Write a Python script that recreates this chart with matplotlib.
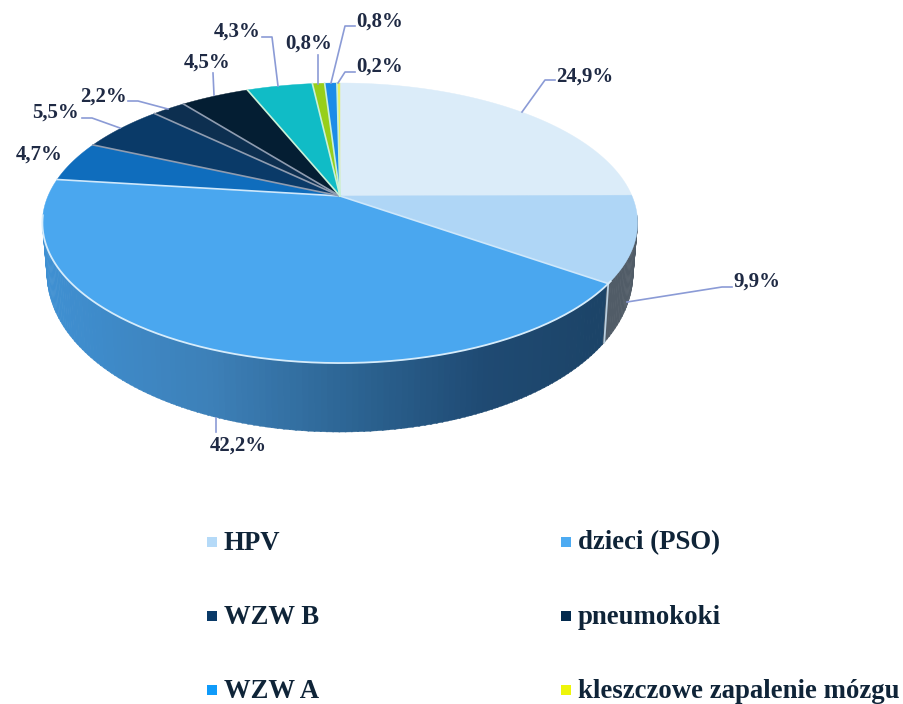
import numpy as np
import matplotlib
matplotlib.use("Agg")
import matplotlib.pyplot as plt
from matplotlib.colors import LinearSegmentedColormap
from matplotlib.patches import Polygon

## udzialy od godziny 12 zgodnie z zegarem
shares = [24.9, 9.9, 42.2, 4.7, 5.5, 2.2, 4.5, 4.3, 0.8, 0.8, 0.2]
slice_colors = ["#dbecf9", "#afd6f6", "#4aa7ef", "#0f6dbd", "#0a3a68", "#0d2f50",
                "#041e33", "#10bcc6", "#97cf1a", "#1b8ce8", "#e8f060"]

legend_names = ["HPV", "dzieci (PSO)", "WZW B", "pneumokoki", "WZW A", "kleszczowe zapalenie mózgu"]
legend_colors = ["#b5daf8", "#4dabf2", "#0a3a68", "#032a4e", "#0f9bfa", "#eef50a"]

## srodek etykiety i lamana odnosnika, w pikselach, ta sama kolejnosc co shares
label_xy = [(585, 77), (757, 282), (238, 446), (39, 155), (56, 113), (104, 97),
            (207, 63), (237, 32), (309, 44), (380, 22), (380, 67)]
leaders = [[(522, 112), (545, 80), (555, 80)],
           [(627, 302), (722, 287), (732, 287)],
           [(216, 418), (216, 432)],
           [],
           [(82, 118), (92, 118), (120, 128)],
           [(128, 101), (138, 101), (168, 109)],
           [(213, 73), (214, 95)],
           [(262, 37), (272, 37), (278, 86)],
           [(318, 55), (318, 84)],
           [(355, 26), (345, 26), (331, 83)],
           [(355, 72), (345, 72), (338, 83)]]

CX, CY = 340, 196
B, A, K = 292, 134.8, 0.193


def top_xy(theta):
	"""kat w stopniach -> piksel na gornej powierzchni (perspektywa)"""
	t = np.radians(theta)
	s, y = np.sin(t), -np.cos(t)
	return CX + B * s / (1 - K * y), CY + A * y / (1 - K * y)


def low_xy(theta):
	"""to samo dla dolnej krawedzi bocznej sciany"""
	t = np.radians(theta)
	x, y = top_xy(theta)
	return CX + (x - CX) * 0.985, y + 45 + 24 * (-np.cos(t))


fig = plt.figure(figsize=(9.04, 7.04), dpi=100)
ax = fig.add_axes([0, 0, 1, 1])
ax.set_xlim(0, 904)
ax.set_ylim(704, 0)
ax.axis("off")

plt.rcParams["font.family"] = ["Liberation Serif", "DejaVu Serif"]

edges = np.concatenate([[0], np.cumsum(shares)]) / sum(shares) * 360

## sciana boczna - gradient po x
blue_wall = LinearSegmentedColormap.from_list(
	"wall", [(0, "#3f90d2"), (0.3, "#3d80b8"), (0.58, "#2b6290"), (0.8, "#1f4a73"), (1, "#1c4468")])
steps = np.arange(98, 260, 1.0)
for th in steps:
	p1, p2 = top_xy(th), top_xy(th + 1.2)
	p3, p4 = low_xy(th + 1.2), low_xy(th)
	if th < edges[2]:
		col = "#515c67"
	else:
		col = blue_wall(np.clip((p1[0] - 45) / (600 - 45), 0, 1))
	ax.add_patch(Polygon([p1, p2, p3, p4], closed=True, facecolor=col, edgecolor=col, lw=0.3, zorder=1))
ax.plot(*zip(top_xy(edges[2]), low_xy(edges[2])), color="#b9cfe0", lw=1.3, zorder=2)

## gorna powierzchnia
for i, col in enumerate(slice_colors):
	th = np.linspace(edges[i], edges[i + 1], max(int(edges[i + 1] - edges[i]) * 2, 3))
	pts = [(CX, CY)] + [top_xy(v) for v in th]
	ax.add_patch(Polygon(pts, closed=True, facecolor=col, edgecolor=col, lw=0.3, zorder=3))

## jasne linie miedzy wycinkami
for i in range(2, len(shares)):
	x, y = top_xy(edges[i])
	c = "#cfe8fb" if i < 4 else "#8f9cb0"
	if i >= 7:
		c = "#c8f0d8"
	ax.plot([CX, x], [CY, y], color=c, lw=1.2, zorder=4)
rim = np.linspace(edges[2] - 1, 262, 200)
ax.plot(*zip(*[top_xy(v) for v in rim]), color="#d6ecfb", lw=1.3, zorder=4)

## odnosniki i etykiety
for v, xy, pts in zip(shares, label_xy, leaders):
	if pts:
		ax.plot(*zip(*pts), color="#8b9bd6", lw=1.2, zorder=5)
	txt = f"{v:.1f}%".replace(".", ",")
	ax.text(xy[0], xy[1], txt, ha="center", va="center", fontsize=15, fontweight="bold", color="#1f2a44", zorder=6)

## legenda
leg_x = [212, 566]
leg_y = [542, 616, 690]
for i, (name, col) in enumerate(zip(legend_names, legend_colors)):
	mx, my = leg_x[i % 2], leg_y[i // 2]
	ax.scatter([mx], [my], marker="s", s=42, color=col, linewidths=0, zorder=5)
	ax.text(mx + 12, my + 1, name, ha="left", va="center", fontsize=19.3, fontweight="bold", color="#0f2438")

fig.savefig("out.png", dpi=100)
